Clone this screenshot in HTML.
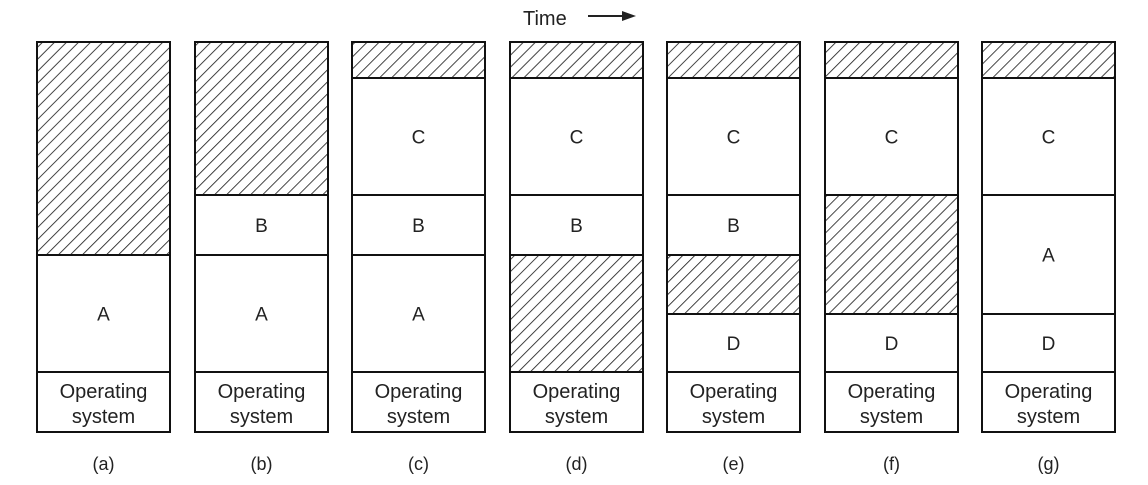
<!DOCTYPE html>
<html><head><meta charset="utf-8"><style>
html,body{margin:0;padding:0;background:#fff;}
svg{display:block;}
text{font-family:"Liberation Sans",Arial,sans-serif;fill:#222;}
</style></head><body>
<svg width="1148" height="485" viewBox="0 0 1148 485" xmlns="http://www.w3.org/2000/svg">
<defs>
<pattern id="h" patternUnits="userSpaceOnUse" width="8.5" height="8.5" patternTransform="rotate(45)">
<line x1="0" y1="0" x2="0" y2="8.5" stroke="#222" stroke-width="1.7"/>
</pattern>
</defs>
<text x="523" y="25" font-size="20">Time</text>
<line x1="588" y1="16" x2="625" y2="16" stroke="#222" stroke-width="2"/>
<polygon points="636,16 622,11 622,21" fill="#222"/>
<g id="cols"></g>
</svg>
<script>
var lefts=[37,195,352,510,667,825,982],W=133;
var cols=[
 [[42,255,'H'],[255,372,'A']],
 [[42,195,'H'],[195,255,'B'],[255,372,'A']],
 [[42,78,'H'],[78,195,'C'],[195,255,'B'],[255,372,'A']],
 [[42,78,'H'],[78,195,'C'],[195,255,'B'],[255,372,'H']],
 [[42,78,'H'],[78,195,'C'],[195,255,'B'],[255,314,'H'],[314,372,'D']],
 [[42,78,'H'],[78,195,'C'],[195,314,'H'],[314,372,'D']],
 [[42,78,'H'],[78,195,'C'],[195,314,'A'],[314,372,'D']]
];
var labs='abcdefg',s='';
cols.forEach(function(c,i){
 var x=lefts[i];
 c.forEach(function(seg){
  if(seg[2]=='H') s+='<rect x="'+x+'" y="'+seg[0]+'" width="'+W+'" height="'+(seg[1]-seg[0])+'" fill="url(#h)" stroke="#111" stroke-width="2"/>';
  else {
   s+='<rect x="'+x+'" y="'+seg[0]+'" width="'+W+'" height="'+(seg[1]-seg[0])+'" fill="#fff" stroke="#111" stroke-width="2"/>';
   s+='<text x="'+(x+W/2)+'" y="'+((seg[0]+seg[1])/2+7)+'" font-size="19" text-anchor="middle">'+seg[2]+'</text>';
  }
 });
 s+='<rect x="'+x+'" y="372" width="'+W+'" height="60" fill="#fff" stroke="#111" stroke-width="2"/>';
 s+='<text x="'+(x+W/2)+'" y="398" font-size="20" text-anchor="middle">Operating</text>';
 s+='<text x="'+(x+W/2)+'" y="423" font-size="20" text-anchor="middle">system</text>';
 s+='<text x="'+(x+W/2)+'" y="470" font-size="18" text-anchor="middle">('+labs[i]+')</text>';
});
document.getElementById('cols').innerHTML=s;
</script>
</body></html>
